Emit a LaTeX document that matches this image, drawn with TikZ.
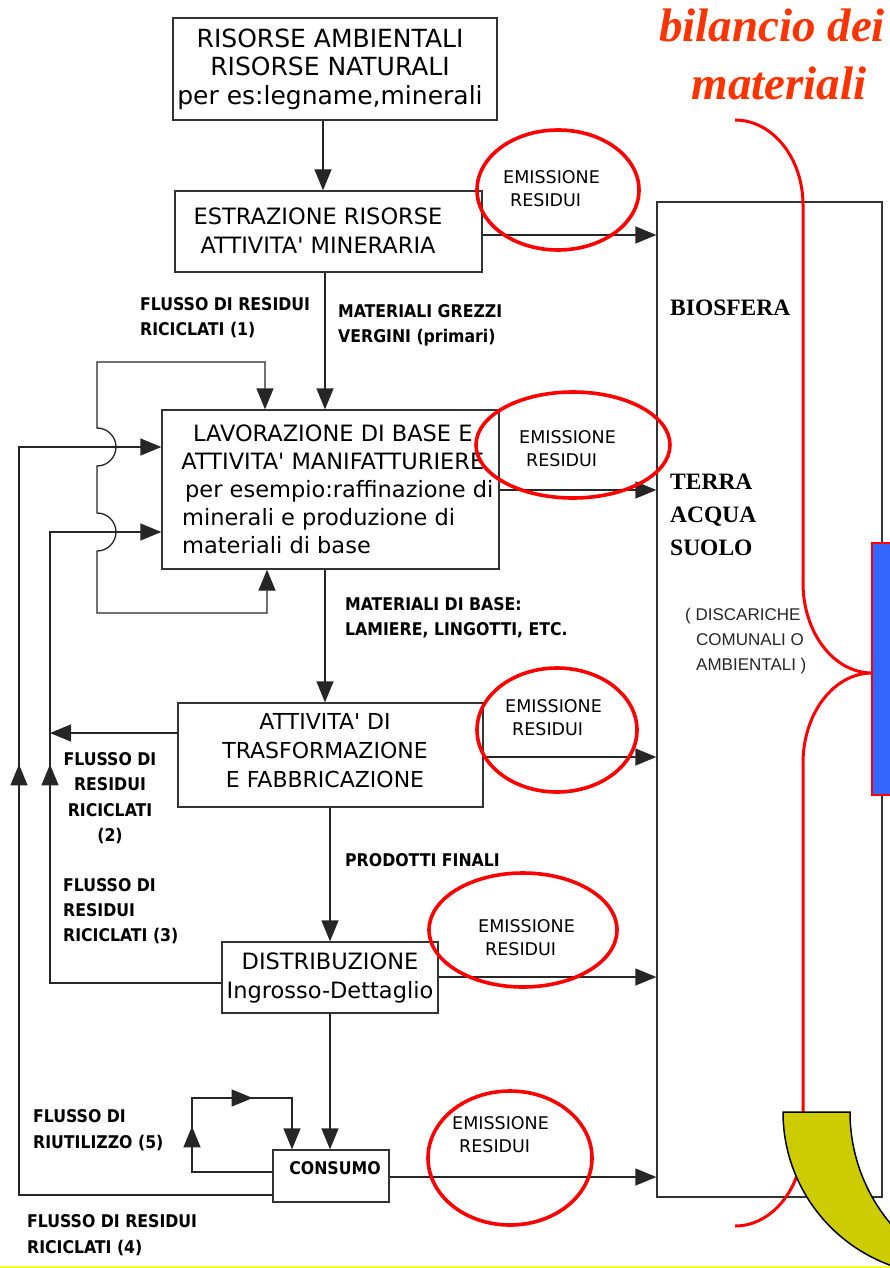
\documentclass[tikz,border=0pt]{standalone}
\usepackage{fontspec}
\usetikzlibrary{arrows.meta,decorations.markings}
\newfontfamily\boxfont{DejaVu Sans}
\newfontfamily\lblfont{DejaVu Sans Condensed}
\newfontfamily\serfont{Liberation Serif}
\newfontfamily\thinfont{Liberation Sans}
% straight apostrophe, bypassing the TeX quote mapping
\newcommand\ap{\XeTeXglyph\XeTeXcharglyph"27\relax}
\definecolor{titlered}{RGB}{255,51,0}
\definecolor{ellred}{RGB}{255,0,0}
\definecolor{bluefill}{RGB}{51,102,255}
\definecolor{bananafill}{RGB}{204,204,0}
\definecolor{rulecol}{RGB}{255,255,40}
\begin{document}
\begin{tikzpicture}[x=1pt,y=-1pt,
  box/.style={draw=black!80, line width=1.3pt, fill=white, inner sep=0pt},
  conn/.style={draw=black!85, line width=1.3pt},
  arr/.style={conn, -{Triangle[length=21pt,width=17pt]}},
  midarrow/.style={postaction={decorate, decoration={markings,
      mark=at position #1 with {\arrow{Triangle[length=21pt,width=17pt]}}}}},
  emell/.style={draw=ellred, line width=3.6pt},
  boxtxt/.style={inner sep=0pt, align=center, font={\boxfont\fontsize{22.5}{29}\selectfont}},
  lbl/.style={inner sep=0pt, align=left, font={\lblfont\bfseries\fontsize{17.5}{25.3}\selectfont}},
  emtxt/.style={inner sep=0pt, align=left, font={\boxfont\fontsize{17.5}{23}\selectfont}},
  sertxt/.style={inner sep=0pt, align=left, font={\serfont\bfseries\fontsize{23.5}{33}\selectfont}},
  thintxt/.style={inner sep=0pt, align=left, font={\thinfont\fontsize{17}{25}\selectfont}, text=black!85},
  titletxt/.style={inner sep=0pt, text=titlered, font={\serfont\bfseries\itshape\fontsize{47}{56}\selectfont}},
]
\useasboundingbox (0,0) rectangle (890,1268);
\clip (0,0) rectangle (890,1268);

% ---------- boxes ----------
\node[box, minimum width=324pt, minimum height=102pt] (b1) at (335,69) {};
\node[box, minimum width=307pt, minimum height=81pt] (b2) at (328.5,231.5) {};
\node[box, minimum width=337pt, minimum height=159pt] (b3) at (330.5,489.5) {};
\node[box, minimum width=305pt, minimum height=104pt] (b4) at (330.5,755) {};
\node[box, minimum width=216pt, minimum height=71pt] (b5) at (330,977.5) {};
\node[box, minimum width=116pt, minimum height=52pt] (b6) at (331,1176) {};
\node[box, minimum width=225pt, minimum height=995pt] (bio) at (769.5,699.5) {};

% ---------- box texts ----------
\node[boxtxt, font={\boxfont\fontsize{25}{28.5}\selectfont}] (b1t) at (330,69)
  {RISORSE AMBIENTALI\\RISORSE NATURALI\\per es:legname,minerali};
\node[boxtxt] (b2t) at (318,231) {ESTRAZIONE RISORSE\\ATTIVITA\ap{} MINERARIA};
\node[boxtxt, anchor=west, font={\boxfont\fontsize{22.5}{28}\selectfont}] (b3t) at (172,492)
  {\begin{tabular}{@{}l@{}}
   \multicolumn{1}{@{}c@{}}{LAVORAZIONE DI BASE E}\\
   \multicolumn{1}{@{}c@{}}{ATTIVITA\ap{} MANIFATTURIERE}\\
   \hspace*{13pt}per esempio:raffinazione di\\
   \hspace*{10pt}minerali e produzione di\\
   \hspace*{10pt}materiali di base
   \end{tabular}};
\node[boxtxt, font={\boxfont\fontsize{22}{29}\selectfont}] (b4t) at (325,751)
  {ATTIVITA\ap{} DI\\TRASFORMAZIONE\\E FABBRICAZIONE};
\node[boxtxt] (b5t) at (330,977.5) {DISTRIBUZIONE\\Ingrosso-Dettaglio};
\node[lbl] (b6t) at (335,1168) {CONSUMO};

% ---------- flow labels ----------
\node[lbl, anchor=west] (f1) at (140,317.5) {FLUSSO DI RESIDUI\\RICICLATI (1)};
\node[lbl, anchor=west] (mg) at (338,325) {MATERIALI GREZZI\\VERGINI (primari)};
\node[lbl, anchor=west] (mb) at (345,617.5) {MATERIALI DI BASE:\\LAMIERE, LINGOTTI, ETC.};
\node[lbl, anchor=west] (pf) at (345,860) {PRODOTTI FINALI};
\node[lbl, align=center] (f2) at (110,798) {FLUSSO DI\\RESIDUI\\RICICLATI\\(2)};
\node[lbl, anchor=west] (f3) at (63,911) {FLUSSO DI\\RESIDUI\\RICICLATI (3)};
\node[lbl, anchor=west] (f5) at (33,1130) {FLUSSO DI\\RIUTILIZZO (5)};
\node[lbl, anchor=west] (f4) at (27,1235) {FLUSSO DI RESIDUI\\RICICLATI (4)};

% ---------- environment column ----------
\node[sertxt, anchor=west] (bs) at (670,308) {BIOSFERA};
\node[sertxt, anchor=west] (tas) at (670,515) {TERRA\\ACQUA\\SUOLO};
\node[thintxt, anchor=west] (dis) at (685,641)
  {( DISCARICHE\\\hspace*{11pt}COMUNALI O\\\hspace*{11pt}AMBIENTALI )};

% ---------- main vertical flow ----------
\coordinate (x12) at (323,0);
\coordinate (x23) at (325,0);
\coordinate (x45) at (330,0);
\draw[arr] (b1.south -| x12) -- (b2.north -| x12);
\draw[arr] (b2.south -| x23) -- (b3.north -| x23);
\draw[arr] (b3.south -| x23) -- (b4.north -| x23);
\draw[arr] (b4.south -| x45) -- (b5.north -| x45);
\draw[arr] (b5.south -| x45) -- (b6.north -| x45);

% ---------- emissions to the environment ----------
\coordinate (y1) at (0,235);
\coordinate (y2) at (0,490);
\coordinate (y3) at (0,757);
\coordinate (y4) at (0,977);
\coordinate (y5) at (0,1177);
\draw[arr] (b2.east |- y1) -- (bio.west |- y1);
\draw[arr] (b3.east |- y2) -- (bio.west |- y2);
\draw[arr] (b4.east |- y3) -- (bio.west |- y3);
\draw[arr] (b5.east |- y4) -- (bio.west |- y4);
\draw[arr] (b6.east |- y5) -- (bio.west |- y5);

% ---------- recycling loop (1) around the base processing ----------
\coordinate (t1) at (265,362);
\coordinate (t0) at (97,362);
\coordinate (j1) at (97,428);
\coordinate (j2) at (97,513);
\coordinate (bl) at (97,613);
\coordinate (br) at (267,613);
\draw[conn, {Triangle[length=21pt,width=17pt]}-{Triangle[length=21pt,width=17pt]}]
  (b3.north -| t1) -- (t1) -- (t0) -- (j1)
  arc[start angle=90, end angle=-90, radius=19pt] -- (j2)
  arc[start angle=90, end angle=-90, radius=19pt] -- (bl) -- (br) -- (b3.south -| br);

% ---------- recycled flows (2), (3), (4) ----------
\coordinate (c2) at (50,733);
\draw[arr] (b4.west |- c2) -- (c2);
\coordinate (c3b) at (50,983);
\coordinate (c3t) at (50,532);
\draw[arr, midarrow=390pt] (b5.west |- c3b) -- (c3b) -- (c3t) -- (b3.west |- c3t);
\coordinate (c4b) at (19,1195);
\coordinate (c4t) at (19,447);
\draw[arr, midarrow=684pt] (b6.west |- c4b) -- (c4b) -- (c4t) -- (b3.west |- c4t);

% ---------- reuse loop (5) ----------
\coordinate (r0) at (192,1172);
\coordinate (r1) at (192,1098);
\coordinate (r2) at (292,1098);
\draw[arr, midarrow=126pt, midarrow=215pt] (b6.west |- r0) -- (r0) -- (r1) -- (r2) -- (b6.north -| r2);

% ---------- emission ellipses ----------
\draw[emell] (558,190) ellipse [x radius=81pt, y radius=60pt];
\draw[emell] (573,445) ellipse [x radius=97pt, y radius=53pt];
\draw[emell] (557,730) ellipse [x radius=80pt, y radius=62pt];
\draw[emell] (523,930) ellipse [x radius=94pt, y radius=57pt];
\draw[emell] (510,1158) ellipse [x radius=82pt, y radius=67pt];
\node[emtxt, anchor=west] (em1) at (503,189) {EMISSIONE\\\hspace*{7pt}RESIDUI};
\node[emtxt, anchor=west] (em2) at (519,448.5) {EMISSIONE\\\hspace*{7pt}RESIDUI};
\node[emtxt, anchor=west] (em3) at (505,717.5) {EMISSIONE\\\hspace*{7pt}RESIDUI};
\node[emtxt, anchor=west] (em4) at (478,937.5) {EMISSIONE\\\hspace*{7pt}RESIDUI};
\node[emtxt, anchor=west] (em5) at (452,1134.5) {EMISSIONE\\\hspace*{7pt}RESIDUI};

% ---------- title ----------
\node[titletxt, anchor=base] (ti1) at (772,42) {bilancio dei};
\node[titletxt, anchor=base] (ti2) at (779,100) {materiali};

% ---------- brace, bar and scoop on the right ----------
\draw[draw=ellred, line width=3pt]
  (735,120) arc[start angle=90, end angle=0, x radius=68pt, y radius=85pt]
  -- (803,583) arc[start angle=180, end angle=270, x radius=69pt, y radius=90pt]
  arc[start angle=90, end angle=180, x radius=69pt, y radius=90pt]
  -- (803,1140) arc[start angle=0, end angle=-90, x radius=68pt, y radius=86pt];
\filldraw[fill=bluefill, draw=ellred, line width=2.5pt] (872,543) rectangle (898,795);
\filldraw[fill=bananafill, draw=black, line width=1.5pt]
  (783,1112) -- (850,1112) arc[start angle=180, end angle=270, radius=174pt]
  -- (946,1275) arc[start angle=270, end angle=180, radius=163pt] -- cycle;

% ---------- bottom rule ----------
\draw[rulecol, line width=2pt] (0,1266.5) -- (890,1266.5);
\end{tikzpicture}
\end{document}
